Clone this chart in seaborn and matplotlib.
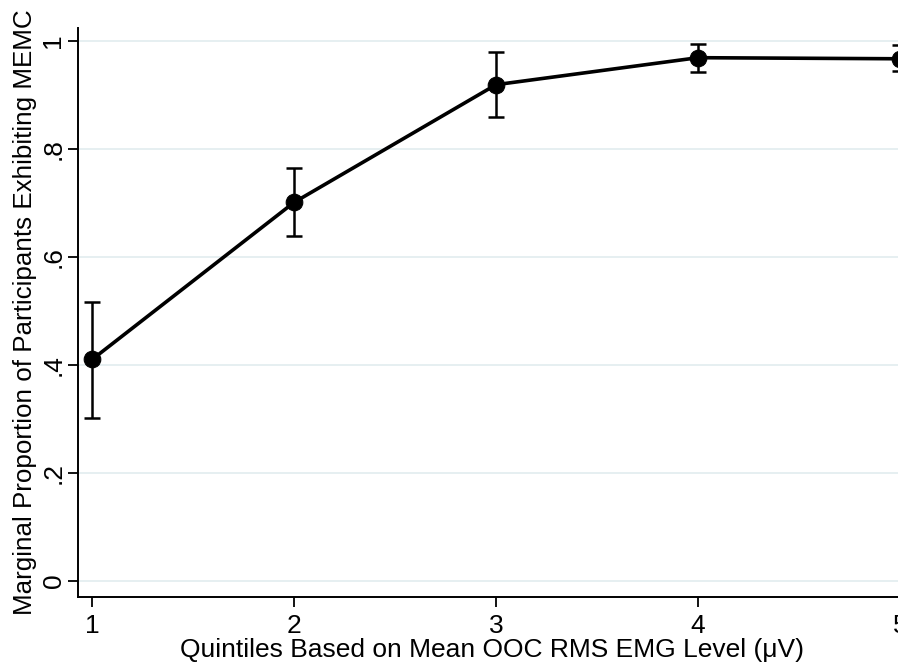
import matplotlib
matplotlib.use("Agg")
import matplotlib.pyplot as plt
import seaborn as sns
import pandas as pd
import numpy as np

quintiles = [1, 2, 3, 4, 5]
proportion = [0.410, 0.701, 0.919, 0.969, 0.967]
ci_lower = [0.302, 0.638, 0.859, 0.943, 0.944]
ci_upper = [0.516, 0.764, 0.980, 0.995, 0.992]
ytick_vals = [0, 0.2, 0.4, 0.6, 0.8, 1.0]
ytick_labels = ["0", ".2", ".4", ".6", ".8", "1"]

df = pd.DataFrame({"q": quintiles, "p": proportion, "lo": ci_lower, "hi": ci_upper})

sns.set_style("white")
plt.rcParams["font.family"] = ["Liberation Sans", "DejaVu Sans"]
plt.rcParams["text.color"] = "black"
plt.rcParams["axes.labelcolor"] = "black"
plt.rcParams["xtick.color"] = "black"
plt.rcParams["ytick.color"] = "black"

W, H = 898, 667
fig = plt.figure(figsize=(W / 100, H / 100), dpi=100)
ax = fig.add_axes([78 / W, 1 - 597 / H, (W - 78) / W + 0.01, (597 - 28) / H])

ax.set_axisbelow(True)
ax.yaxis.grid(True, color="#e4eef0", linewidth=1.3)
ax.xaxis.grid(False)

yerr = np.array([df["p"] - df["lo"], df["hi"] - df["p"]])
ax.errorbar(df["q"], df["p"], yerr=yerr, fmt="none", ecolor="black",
            elinewidth=1.8, capsize=5.5, capthick=1.8, clip_on=False, zorder=3)
sns.lineplot(data=df, x="q", y="p", ax=ax, color="black", linewidth=2.6,
             marker="o", markersize=12, markeredgecolor="black",
             markerfacecolor="black", clip_on=False, zorder=4)

ax.set_xlim(0.93, 5.035)
ax.set_ylim(-0.03, 1.024)
ax.set_xticks(quintiles)
ax.set_xticklabels([str(q) for q in quintiles])
ax.set_yticks(ytick_vals)
ax.set_yticklabels(ytick_labels, rotation=90, va="center")

for s in ["top", "right"]:
    ax.spines[s].set_visible(False)
for s in ["left", "bottom"]:
    ax.spines[s].set_color("black")
    ax.spines[s].set_linewidth(1.4)

ax.tick_params(axis="both", direction="out", length=7, width=1.3, color="black",
               labelcolor="black", labelsize=19, left=True, bottom=True)
ax.tick_params(axis="y", pad=2)
ax.tick_params(axis="x", pad=5)

ax.set_xlabel("Quintiles Based on Mean OOC RMS EMG Level (\u03bcV)", fontsize=19,
              labelpad=0, color="black")
ax.set_ylabel("Marginal Proportion of Participants Exhibiting MEMC", fontsize=18.7,
              labelpad=3, color="black")

fig.savefig("out.png", dpi=100)
